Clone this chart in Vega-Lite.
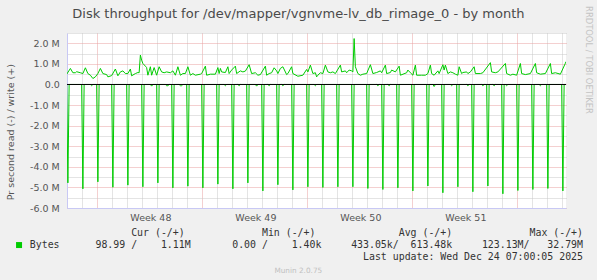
{
  "$schema": "https://vega.github.io/schema/vega-lite/v6.json",
  "width": 499,
  "height": 175,
  "autosize": {"type": "none"},
  "padding": {"left": 67, "top": 33, "right": 31, "bottom": 72},
  "background": "#f0f0f0",
  "config": {"view": {"fill": "#ffffff", "stroke": null}, "font": "DejaVu Sans"},
  "title": {
    "text": "Munin 2.0.75",
    "orient": "bottom",
    "anchor": "middle",
    "frame": "group",
    "dx": -18.2,
    "offset": 5.9,
    "baseline": "top",
    "font": "DejaVu Sans",
    "fontSize": 7.3,
    "fontWeight": "normal",
    "color": "#c0c0c0"
  },
  "datasets": {
    "write": [
      {"h": -48, "bytes": 490000}, {"h": -42, "bytes": 780000}, {"h": -38, "bytes": 570000}, {"h": -34, "bytes": 570000},
      {"h": -32, "bytes": 620000}, {"h": -26, "bytes": 570000}, {"h": -22, "bytes": 530000}, {"h": -18, "bytes": 810000},
      {"h": -14, "bytes": 530000}, {"h": -10, "bytes": 450000}, {"h": -6, "bytes": 290000}, {"h": -2, "bytes": 370000},
      {"h": 2, "bytes": 530000}, {"h": 6, "bytes": 780000}, {"h": 10, "bytes": 530000}, {"h": 16, "bytes": 480000},
      {"h": 18, "bytes": 370000}, {"h": 24, "bytes": 430000}, {"h": 30, "bytes": 750000}, {"h": 34, "bytes": 420000},
      {"h": 38, "bytes": 610000}, {"h": 42, "bytes": 660000}, {"h": 46, "bytes": 530000}, {"h": 50, "bytes": 530000},
      {"h": 54, "bytes": 750000}, {"h": 56, "bytes": 420000}, {"h": 62, "bytes": 530000}, {"h": 66, "bytes": 580000},
      {"h": 68, "bytes": 570000}, {"h": 70, "bytes": 1430000}, {"h": 72, "bytes": 1180000}, {"h": 74, "bytes": 1020000},
      {"h": 78, "bytes": 890000}, {"h": 80, "bytes": 820000}, {"h": 82, "bytes": 450000}, {"h": 86, "bytes": 860000},
      {"h": 88, "bytes": 450000}, {"h": 92, "bytes": 820000}, {"h": 96, "bytes": 450000}, {"h": 100, "bytes": 860000},
      {"h": 104, "bytes": 610000}, {"h": 108, "bytes": 570000}, {"h": 112, "bytes": 610000}, {"h": 118, "bytes": 570000},
      {"h": 122, "bytes": 660000}, {"h": 126, "bytes": 450000}, {"h": 130, "bytes": 860000}, {"h": 134, "bytes": 450000},
      {"h": 138, "bytes": 530000}, {"h": 142, "bytes": 530000}, {"h": 146, "bytes": 860000}, {"h": 150, "bytes": 450000},
      {"h": 154, "bytes": 530000}, {"h": 158, "bytes": 450000}, {"h": 166, "bytes": 500000}, {"h": 168, "bytes": 530000},
      {"h": 174, "bytes": 890000}, {"h": 176, "bytes": 450000}, {"h": 182, "bytes": 500000}, {"h": 190, "bytes": 500000},
      {"h": 194, "bytes": 820000}, {"h": 196, "bytes": 530000}, {"h": 198, "bytes": 780000}, {"h": 200, "bytes": 610000},
      {"h": 206, "bytes": 580000}, {"h": 210, "bytes": 860000}, {"h": 212, "bytes": 530000}, {"h": 216, "bytes": 700000},
      {"h": 222, "bytes": 890000}, {"h": 224, "bytes": 530000}, {"h": 230, "bytes": 660000}, {"h": 234, "bytes": 610000},
      {"h": 238, "bytes": 650000}, {"h": 244, "bytes": 960000}, {"h": 248, "bytes": 530000}, {"h": 254, "bytes": 570000},
      {"h": 258, "bytes": 450000}, {"h": 262, "bytes": 480000}, {"h": 270, "bytes": 890000}, {"h": 272, "bytes": 450000},
      {"h": 276, "bytes": 530000}, {"h": 280, "bytes": 570000}, {"h": 284, "bytes": 810000}, {"h": 288, "bytes": 660000},
      {"h": 290, "bytes": 530000}, {"h": 294, "bytes": 780000}, {"h": 298, "bytes": 860000}, {"h": 304, "bytes": 480000},
      {"h": 306, "bytes": 530000}, {"h": 312, "bytes": 860000}, {"h": 314, "bytes": 530000}, {"h": 322, "bytes": 400000},
      {"h": 330, "bytes": 450000}, {"h": 336, "bytes": 730000}, {"h": 338, "bytes": 610000}, {"h": 342, "bytes": 940000},
      {"h": 346, "bytes": 530000}, {"h": 350, "bytes": 570000}, {"h": 352, "bytes": 370000}, {"h": 354, "bytes": 450000},
      {"h": 358, "bytes": 570000}, {"h": 362, "bytes": 530000}, {"h": 366, "bytes": 940000}, {"h": 370, "bytes": 610000},
      {"h": 374, "bytes": 570000}, {"h": 378, "bytes": 610000}, {"h": 382, "bytes": 530000}, {"h": 390, "bytes": 940000},
      {"h": 392, "bytes": 610000}, {"h": 398, "bytes": 660000}, {"h": 400, "bytes": 570000}, {"h": 404, "bytes": 700000},
      {"h": 408, "bytes": 660000}, {"h": 410, "bytes": 610000}, {"h": 412, "bytes": 2230000}, {"h": 414, "bytes": 860000},
      {"h": 418, "bytes": 530000}, {"h": 422, "bytes": 450000}, {"h": 426, "bytes": 500000}, {"h": 432, "bytes": 530000},
      {"h": 438, "bytes": 960000}, {"h": 442, "bytes": 530000}, {"h": 448, "bytes": 580000}, {"h": 454, "bytes": 660000},
      {"h": 456, "bytes": 570000}, {"h": 462, "bytes": 940000}, {"h": 464, "bytes": 530000}, {"h": 470, "bytes": 580000},
      {"h": 472, "bytes": 700000}, {"h": 478, "bytes": 610000}, {"h": 484, "bytes": 890000}, {"h": 486, "bytes": 450000},
      {"h": 496, "bytes": 570000}, {"h": 498, "bytes": 700000}, {"h": 502, "bytes": 570000}, {"h": 506, "bytes": 450000},
      {"h": 510, "bytes": 940000}, {"h": 512, "bytes": 450000}, {"h": 520, "bytes": 450000}, {"h": 526, "bytes": 450000},
      {"h": 530, "bytes": 530000}, {"h": 534, "bytes": 940000}, {"h": 536, "bytes": 530000}, {"h": 540, "bytes": 450000},
      {"h": 546, "bytes": 660000}, {"h": 548, "bytes": 530000}, {"h": 554, "bytes": 960000}, {"h": 556, "bytes": 700000},
      {"h": 558, "bytes": 940000}, {"h": 562, "bytes": 530000}, {"h": 566, "bytes": 610000}, {"h": 570, "bytes": 570000},
      {"h": 574, "bytes": 500000}, {"h": 578, "bytes": 450000}, {"h": 580, "bytes": 860000}, {"h": 584, "bytes": 530000},
      {"h": 586, "bytes": 580000}, {"h": 592, "bytes": 610000}, {"h": 594, "bytes": 530000}, {"h": 598, "bytes": 610000},
      {"h": 604, "bytes": 860000}, {"h": 606, "bytes": 530000}, {"h": 614, "bytes": 530000}, {"h": 618, "bytes": 570000},
      {"h": 630, "bytes": 1060000}, {"h": 632, "bytes": 610000}, {"h": 638, "bytes": 570000}, {"h": 642, "bytes": 610000},
      {"h": 654, "bytes": 1020000}, {"h": 656, "bytes": 530000}, {"h": 662, "bytes": 450000}, {"h": 666, "bytes": 500000},
      {"h": 672, "bytes": 450000}, {"h": 678, "bytes": 1020000}, {"h": 680, "bytes": 530000}, {"h": 686, "bytes": 480000},
      {"h": 694, "bytes": 530000}, {"h": 702, "bytes": 1020000}, {"h": 704, "bytes": 570000}, {"h": 710, "bytes": 500000},
      {"h": 718, "bytes": 530000}, {"h": 726, "bytes": 1020000}, {"h": 728, "bytes": 530000}, {"h": 734, "bytes": 570000},
      {"h": 742, "bytes": 500000}, {"h": 750, "bytes": 1030000}, {"h": 751, "bytes": 1110000}
    ],
    "read": [
      {"h": -48, "bytes": 0}, {"h": -46, "bytes": -4780000}, {"h": -44, "bytes": 0},
      {"h": -24, "bytes": 0}, {"h": -22, "bytes": -5070000}, {"h": -20, "bytes": 0},
      {"h": -10, "bytes": 0}, {"h": -8, "bytes": -60000}, {"h": -6, "bytes": 0},
      {"h": 0, "bytes": 0}, {"h": 2, "bytes": -4730000}, {"h": 4, "bytes": 0},
      {"h": 24, "bytes": 0}, {"h": 26, "bytes": -4990000}, {"h": 28, "bytes": 0},
      {"h": 48, "bytes": 0}, {"h": 50, "bytes": -4890000}, {"h": 52, "bytes": 0},
      {"h": 72, "bytes": 0}, {"h": 74, "bytes": -4970000}, {"h": 76, "bytes": 0},
      {"h": 86, "bytes": 0}, {"h": 88, "bytes": -80000}, {"h": 90, "bytes": 0},
      {"h": 96, "bytes": 0}, {"h": 98, "bytes": -4780000}, {"h": 100, "bytes": 0},
      {"h": 110, "bytes": 0}, {"h": 112, "bytes": -60000}, {"h": 114, "bytes": -60000}, {"h": 116, "bytes": 0},
      {"h": 120, "bytes": 0}, {"h": 122, "bytes": -5020000}, {"h": 124, "bytes": 0},
      {"h": 132, "bytes": 0}, {"h": 134, "bytes": -60000}, {"h": 136, "bytes": -60000}, {"h": 138, "bytes": 0},
      {"h": 144, "bytes": 0}, {"h": 146, "bytes": -4940000}, {"h": 148, "bytes": 0},
      {"h": 168, "bytes": 0}, {"h": 170, "bytes": -5020000}, {"h": 172, "bytes": 0},
      {"h": 192, "bytes": 0}, {"h": 194, "bytes": -4840000}, {"h": 196, "bytes": 0},
      {"h": 204, "bytes": 0}, {"h": 206, "bytes": -60000}, {"h": 208, "bytes": 0},
      {"h": 216, "bytes": 0}, {"h": 218, "bytes": -5070000}, {"h": 220, "bytes": 0},
      {"h": 226, "bytes": 0}, {"h": 228, "bytes": -60000}, {"h": 230, "bytes": 0},
      {"h": 240, "bytes": 0}, {"h": 242, "bytes": -4780000}, {"h": 244, "bytes": 0},
      {"h": 254, "bytes": 0}, {"h": 256, "bytes": -80000}, {"h": 258, "bytes": 0},
      {"h": 264, "bytes": 0}, {"h": 266, "bytes": -5170000}, {"h": 268, "bytes": 0},
      {"h": 274, "bytes": 0}, {"h": 276, "bytes": -60000}, {"h": 278, "bytes": 0},
      {"h": 288, "bytes": 0}, {"h": 290, "bytes": -4870000}, {"h": 292, "bytes": 0},
      {"h": 296, "bytes": 0}, {"h": 298, "bytes": -60000}, {"h": 300, "bytes": 0},
      {"h": 312, "bytes": 0}, {"h": 314, "bytes": -5120000}, {"h": 316, "bytes": 0},
      {"h": 336, "bytes": 0}, {"h": 338, "bytes": -4970000}, {"h": 340, "bytes": 0},
      {"h": 348, "bytes": 0}, {"h": 350, "bytes": -60000}, {"h": 352, "bytes": 0},
      {"h": 360, "bytes": 0}, {"h": 362, "bytes": -5000000}, {"h": 364, "bytes": 0},
      {"h": 384, "bytes": 0}, {"h": 386, "bytes": -4970000}, {"h": 388, "bytes": 0},
      {"h": 408, "bytes": 0}, {"h": 410, "bytes": -4970000}, {"h": 412, "bytes": 0},
      {"h": 432, "bytes": 0}, {"h": 434, "bytes": -5050000}, {"h": 436, "bytes": 0},
      {"h": 448, "bytes": 0}, {"h": 450, "bytes": -60000}, {"h": 452, "bytes": 0},
      {"h": 456, "bytes": 0}, {"h": 458, "bytes": -5100000}, {"h": 460, "bytes": 0},
      {"h": 466, "bytes": 0}, {"h": 468, "bytes": -60000}, {"h": 470, "bytes": 0},
      {"h": 480, "bytes": 0}, {"h": 482, "bytes": -5020000}, {"h": 484, "bytes": 0},
      {"h": 504, "bytes": 0}, {"h": 506, "bytes": -5170000}, {"h": 508, "bytes": 0},
      {"h": 528, "bytes": 0}, {"h": 530, "bytes": -4930000}, {"h": 532, "bytes": 0},
      {"h": 538, "bytes": 0}, {"h": 540, "bytes": -100000}, {"h": 542, "bytes": 0},
      {"h": 552, "bytes": 0}, {"h": 554, "bytes": -5260000}, {"h": 556, "bytes": 0},
      {"h": 566, "bytes": 0}, {"h": 568, "bytes": -60000}, {"h": 570, "bytes": 0},
      {"h": 576, "bytes": 0}, {"h": 578, "bytes": -4970000}, {"h": 580, "bytes": 0},
      {"h": 592, "bytes": 0}, {"h": 594, "bytes": -60000}, {"h": 596, "bytes": 0},
      {"h": 600, "bytes": 0}, {"h": 602, "bytes": -5210000}, {"h": 604, "bytes": 0},
      {"h": 616, "bytes": 0}, {"h": 618, "bytes": -60000}, {"h": 620, "bytes": 0},
      {"h": 624, "bytes": 0}, {"h": 626, "bytes": -4930000}, {"h": 628, "bytes": 0},
      {"h": 634, "bytes": 0}, {"h": 636, "bytes": -60000}, {"h": 638, "bytes": 0},
      {"h": 648, "bytes": 0}, {"h": 650, "bytes": -5310000}, {"h": 652, "bytes": 0},
      {"h": 654, "bytes": 0}, {"h": 656, "bytes": -60000}, {"h": 658, "bytes": 0},
      {"h": 672, "bytes": 0}, {"h": 674, "bytes": -5150000}, {"h": 676, "bytes": 0},
      {"h": 696, "bytes": 0}, {"h": 698, "bytes": -5100000}, {"h": 700, "bytes": 0},
      {"h": 708, "bytes": 0}, {"h": 710, "bytes": -60000}, {"h": 712, "bytes": 0},
      {"h": 720, "bytes": 0}, {"h": 722, "bytes": -5050000}, {"h": 724, "bytes": 0},
      {"h": 744, "bytes": 0}, {"h": 746, "bytes": -5170000}, {"h": 748, "bytes": 0},
      {"h": 751, "bytes": -99}
    ]
  },
  "layer": [
    {
      "data": {"name": "write"},
      "mark": {"type": "line", "strokeWidth": 1, "clip": true},
      "encoding": {
        "x": {
          "field": "h", "type": "quantitative",
          "scale": {"domain": [-47.4, 751], "nice": false, "zero": false},
          "axis": {
            "orient": "bottom",
            "values": [-24, 0, 24, 48, 72, 96, 120, 144, 168, 192, 216, 240, 264, 288, 312, 336, 360, 384, 408, 432, 456, 480, 504, 528, 552, 576, 600, 624, 648, 672, 696, 720, 744, 86, 254, 422, 590],
            "labelExpr": "datum.value % 24 == 0 ? '' : 'Week ' + (48 + round((datum.value - 86) / 168))",
            "grid": true,
            "gridColor": {"condition": {"test": "datum.value % 168 == 0", "value": "#e8a0a0"}, "value": "#c8c8c8"},
            "gridOpacity": {"condition": {"test": "datum.value % 24 != 0", "value": 0}, "value": 1},
            "gridDash": [1, 1],
            "gridWidth": 1,
            "ticks": false,
            "tickSize": 0,
            "domain": true,
            "domainColor": "#c8c8f4",
            "domainWidth": 1,
            "labelFont": "DejaVu Sans",
            "labelFontSize": 9.5,
            "labelColor": "#555555",
            "labelPadding": 12,
            "labelBaseline": "alphabetic",
            "labelAngle": 0,
            "labelOverlap": false,
            "labelFlush": false,
            "title": [
              "Cur (-/+)\u00a0\u00a0\u00a0\u00a0\u00a0\u00a0\u00a0\u00a0\u00a0\u00a0\u00a0\u00a0\u00a0Min (-/+)\u00a0\u00a0\u00a0\u00a0\u00a0\u00a0\u00a0\u00a0\u00a0\u00a0\u00a0\u00a0\u00a0\u00a0Avg (-/+)\u00a0\u00a0\u00a0\u00a0\u00a0\u00a0\u00a0\u00a0\u00a0\u00a0\u00a0\u00a0\u00a0Max (-/+)\u00a0",
              "98.99 /\u00a0\u00a0\u00a0\u00a01.11M\u00a0\u00a0\u00a0\u00a0\u00a0\u00a0\u00a00.00 /\u00a0\u00a0\u00a0\u00a01.40k\u00a0\u00a0\u00a0\u00a0\u00a0433.05k/\u00a0\u00a0613.48k\u00a0\u00a0\u00a0\u00a0\u00a0123.13M/\u00a0\u00a0\u00a032.79M",
              "Last update: Wed Dec 24 07:00:05 2025"
            ],
            "titleFont": "DejaVu Sans Mono",
            "titleFontSize": 9.9,
            "titleFontWeight": "normal",
            "titleColor": "#333333",
            "titleAlign": "right",
            "titleBaseline": "alphabetic",
            "titleAngle": 0,
            "titleX": 515.5,
            "titleY": 27.7,
            "titleLineHeight": 11.8,
            "titleLimit": 1000
          }
        },
        "y": {
          "field": "bytes", "type": "quantitative",
          "scale": {"domain": [-6000000, 2500000], "nice": false, "zero": false},
          "axis": {
            "orient": "left",
            "values": [-6000000, -5500000, -5000000, -4500000, -4000000, -3500000, -3000000, -2500000, -2000000, -1500000, -1000000, -500000, 0, 500000, 1000000, 1500000, 2000000, 2500000],
            "labelExpr": "datum.value % 1000000 != 0 ? '' : (datum.value == 0 ? '0.0' : (datum.value < 0 ? '-' : '') + format(abs(datum.value) / 1000000, '.1f') + ' M')",
            "grid": true,
            "gridColor": {"condition": {"test": "datum.value % 1000000 == 0", "value": "#e8a0a0"}, "value": "#c8c8c8"},
            "gridDash": [1, 1],
            "gridWidth": 1,
            "ticks": false,
            "tickSize": 0,
            "domain": true,
            "domainColor": "#c8c8f4",
            "domainWidth": 1,
            "labelFont": "DejaVu Sans",
            "labelFontSize": 9.5,
            "labelColor": "#555555",
            "labelPadding": 7.7,
            "labelOverlap": false,
            "labelFlush": false,
            "title": "Pr second read (-) / write (+)",
            "titleFont": "DejaVu Sans",
            "titleFontSize": 9.5,
            "titleFontWeight": "normal",
            "titleColor": "#555555",
            "titleAngle": 270,
            "titleAlign": "center",
            "titleBaseline": "middle",
            "titleX": -56.2,
            "titleY": 98.7,
            "titleLimit": 1000
          }
        },
        "color": {
          "datum": "Bytes",
          "scale": {"domain": ["Bytes"], "range": ["#00cc00"]},
          "legend": {
            "orient": "none",
            "legendX": -52.9,
            "legendY": 207.1,
            "title": null,
            "padding": 0,
            "symbolType": "square",
            "symbolSize": 36,
            "symbolFillColor": "#00cc00",
            "symbolStrokeColor": "#00cc00",
            "symbolStrokeWidth": 0,
            "symbolOpacity": 1,
            "labelFont": "DejaVu Sans Mono",
            "labelFontSize": 9.9,
            "labelColor": "#333333",
            "labelOffset": 5.8
          }
        }
      }
    },
    {
      "data": {"name": "read"},
      "mark": {"type": "line", "strokeWidth": 1, "clip": true},
      "encoding": {
        "x": {
          "field": "h", "type": "quantitative",
          "scale": {"domain": [-47.4, 751], "nice": false, "zero": false},
          "axis": {
            "orient": "top",
            "labels": false, "ticks": false, "domain": false, "grid": false,
            "title": "Disk throughput for /dev/mapper/vgnvme-lv_db_rimage_0 - by month",
            "titleFont": "DejaVu Sans",
            "titleFontSize": 13,
            "titleFontWeight": "normal",
            "titleColor": "#4a4a4a",
            "titleAlign": "center",
            "titleBaseline": "alphabetic",
            "titleAngle": 0,
            "titleX": 230.9,
            "titleY": -15.1,
            "titleLimit": 1000
          }
        },
        "y": {
          "field": "bytes", "type": "quantitative",
          "scale": {"domain": [-6000000, 2500000], "nice": false, "zero": false},
          "axis": {
            "orient": "right",
            "labels": false, "ticks": false, "domain": false, "grid": false,
            "title": "RRDTOOL / TOBI OETIKER",
            "titleFont": "DejaVu Sans",
            "titleFontSize": 8.4,
            "titleFontWeight": "normal",
            "titleColor": "#c4c4c4",
            "titleAngle": 90,
            "titleAlign": "center",
            "titleBaseline": "middle",
            "titleX": 22.3,
            "titleY": 26.5,
            "titleLimit": 1000
          }
        },
        "color": {"datum": "Bytes"}
      }
    },
    {
      "data": {"values": [{"level": 0}]},
      "mark": {"type": "rule", "color": "#000000", "strokeWidth": 1},
      "encoding": {
        "y": {
          "field": "level", "type": "quantitative",
          "scale": {"domain": [-6000000, 2500000], "nice": false, "zero": false},
          "axis": null
        }
      }
    }
  ],
  "resolve": {"axis": {"x": "independent", "y": "independent"}}
}
